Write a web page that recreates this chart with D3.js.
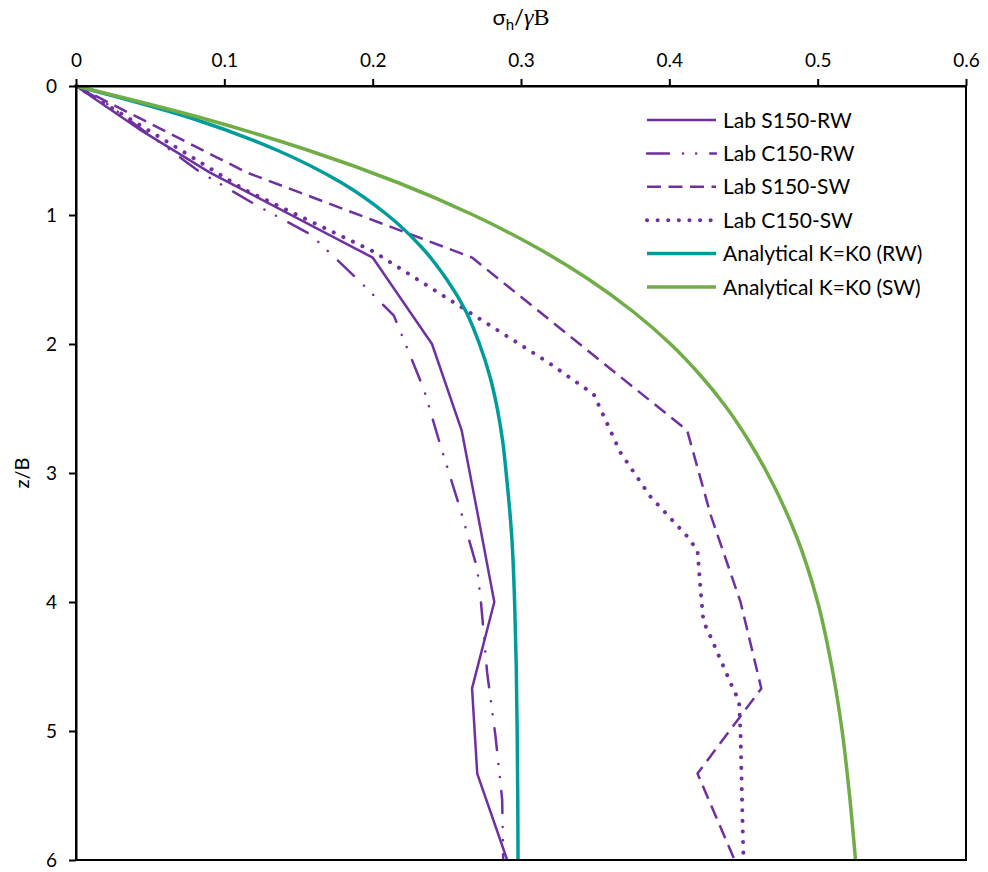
<!DOCTYPE html>
<html>
<head>
<meta charset="utf-8">
<script src="https://cdn.jsdelivr.net/npm/d3@7"></script>
<style>
  html, body { margin: 0; padding: 0; background: #fff; }
  svg { display: block; }
  text { font-family: Lato, "Open Sans", sans-serif; fill: #000; }
</style>
</head>
<body>
<svg id="chart" width="988" height="872"></svg>
<script>
// Horizontal stress ratio sigma_h / (gamma B) versus depth ratio z/B.
// Each point is [sigma_h / gamma B, z / B].
const xTicks = [0, 0.1, 0.2, 0.3, 0.4, 0.5, 0.6];
const zTicks = [0, 1, 2, 3, 4, 5, 6];

const labS150RW = [[0,0],[0.042,0.33],[0.09,0.67],[0.2,1.33],[0.24,2.0],[0.26,2.67],
  [0.271,3.33],[0.282,4.0],[0.267,4.67],[0.2705,5.33],[0.2907,6.0]];

const labC150RW = [[0,0],[0.02,0.13],[0.052,0.4],[0.084,0.67],[0.121,0.92],[0.158,1.15],
  [0.19,1.5],[0.2143,1.78],[0.2345,2.35],[0.2458,2.79],[0.2588,3.27],[0.2705,3.74],
  [0.273,4.0],[0.2772,4.55],[0.2828,5.04],[0.2873,5.53],[0.288,6.0]];

const labS150SW = [[0,0],[0.115,0.67],[0.267,1.33],[0.412,2.67],[0.428,3.33],[0.448,4.0],
  [0.462,4.67],[0.419,5.33],[0.444,6.0]];

const labC150SW = [[0,0],[0.064,0.45],[0.113,0.8],[0.2,1.28],[0.255,1.68],[0.318,2.14],
  [0.349,2.39],[0.367,2.84],[0.387,3.18],[0.412,3.49],[0.419,3.6],[0.421,3.9],[0.423,4.15],
  [0.429,4.3],[0.441,4.62],[0.447,4.77],[0.448,5.02],[0.449,5.53],[0.45,6.0]];

// Analytical K = K0 solutions, sampled along depth
const analyticZ = [0,0.25,0.5,0.75,1,1.25,1.5,1.75,2,2.25,2.5,2.75,3,3.5,4,4.5,5,5.5,6];
const analyticRW = [0,0.078,0.136,0.179,0.210,0.233,0.250,0.263,0.272,0.279,0.284,0.2876,
  0.290,0.2938,0.2957,0.2968,0.2974,0.2978,0.298];
const analyticSW = [0,0.0854,0.157,0.2173,0.2678,0.3102,0.3458,0.3757,0.4008,0.4215,0.439,
  0.4535,0.466,0.486,0.500,0.5095,0.5165,0.5215,0.5255];

const seriesNames = ["Lab S150-RW", "Lab C150-RW", "Lab S150-SW", "Lab C150-SW",
  "Analytical K=K0 (RW)", "Analytical K=K0 (SW)"];

const purple = "#7030A0", teal = "#009C9C", green = "#70AD47";

const series = [
  { name: seriesNames[0], data: labS150RW, color: purple, width: 2.5, dash: null, cap: "butt", curve: d3.curveLinear },
  { name: seriesNames[1], data: labC150RW, color: purple, width: 2.5, dash: "22,14,0.1,13,0.1,14", cap: "round", curve: d3.curveLinear },
  { name: seriesNames[2], data: labS150SW, color: purple, width: 2.5, dash: "14,7.5", cap: "butt", curve: d3.curveLinear },
  { name: seriesNames[3], data: labC150SW, color: purple, width: 4, dash: "0.1,10.5", cap: "round", curve: d3.curveLinear },
  { name: seriesNames[4], data: analyticZ.map((z, i) => [analyticRW[i], z]), color: teal, width: 3.5, dash: null, cap: "butt", curve: d3.curveMonotoneY },
  { name: seriesNames[5], data: analyticZ.map((z, i) => [analyticSW[i], z]), color: green, width: 3.5, dash: null, cap: "butt", curve: d3.curveMonotoneY }
];

const plot = { left: 76, right: 966, top: 86, bottom: 860 };
const svg = d3.select("#chart");

const x = d3.scaleLinear().domain([0, 0.6]).range([plot.left, plot.right]);
const y = d3.scaleLinear().domain([0, 6]).range([plot.top, plot.bottom]);

// Series lines
const line = d3.line().x(d => x(d[0])).y(d => y(d[1]));
const lines = svg.append("g");
series.forEach(s => {
  lines.append("path")
    .datum(s.data)
    .attr("d", line.curve(s.curve))
    .attr("fill", "none")
    .attr("stroke", s.color)
    .attr("stroke-width", s.width)
    .attr("stroke-linecap", s.cap)
    .attr("stroke-linejoin", "round")
    .attr("stroke-dasharray", s.dash);
});

// Frame: right and bottom edges
svg.append("rect")
  .attr("x", plot.left).attr("y", plot.top)
  .attr("width", plot.right - plot.left).attr("height", plot.bottom - plot.top)
  .attr("fill", "none").attr("stroke", "#000").attr("stroke-width", 2);

// Top axis
const xAxis = svg.append("g")
  .attr("transform", `translate(0,${plot.top})`)
  .call(d3.axisTop(x).tickValues(xTicks).tickFormat(d3.format("")).tickSize(7).tickSizeOuter(0).tickPadding(12));
// Left axis
const yAxis = svg.append("g")
  .attr("transform", `translate(${plot.left},0)`)
  .call(d3.axisLeft(y).tickValues(zTicks).tickFormat(d3.format("")).tickSize(7).tickSizeOuter(0).tickPadding(12));

[xAxis, yAxis].forEach(g => {
  g.select(".domain").attr("stroke", "#000").attr("stroke-width", 2);
  g.selectAll(".tick line").attr("stroke", "#000").attr("stroke-width", 2);
  g.selectAll(".tick text")
    .attr("fill", "#000")
    .style("font-family", "Lato, sans-serif")
    .style("font-size", "19px");
});

// Axis titles
const title = svg.append("text")
  .attr("x", 521).attr("y", 25)
  .attr("text-anchor", "middle")
  .style("font-size", "22px");
title.append("tspan").text("σ");
title.append("tspan").text("h").attr("dy", 5).style("font-size", "15px");
title.append("tspan").text("/").attr("dy", -5);
title.append("tspan").text("γ").style("font-family", "'Liberation Serif', serif").style("font-style", "italic").style("font-size", "24px");
title.append("tspan").text("B").style("font-family", "'Liberation Serif', serif").style("font-size", "24px");

svg.append("text")
  .attr("transform", `translate(29,473) rotate(-90)`)
  .attr("text-anchor", "middle")
  .style("font-size", "20px")
  .text("z/B");

// Legend
const legend = svg.append("g");
series.forEach((s, i) => {
  const cy = 120 + i * 33.4;
  legend.append("line")
    .attr("x1", 647).attr("x2", 716)
    .attr("y1", cy).attr("y2", cy)
    .attr("stroke", s.color)
    .attr("stroke-width", s.width)
    .attr("stroke-linecap", s.cap)
    .attr("stroke-dasharray", s.dash);
  legend.append("text")
    .attr("x", 723).attr("y", cy)
    .attr("dy", "0.36em")
    .style("font-size", "21px")
    .text(s.name);
});
</script>
</body>
</html>
